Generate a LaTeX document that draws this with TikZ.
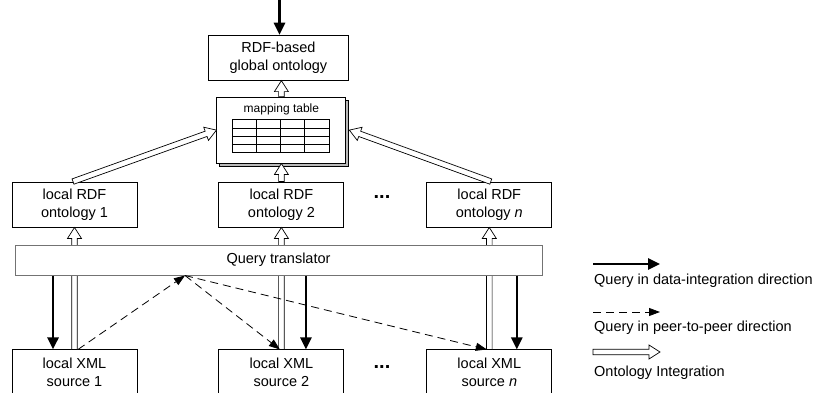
\documentclass[tikz,border=0pt]{standalone}
\usepackage{fontspec}
\setmainfont{Liberation Sans}
\usetikzlibrary{arrows.meta,calc,positioning,shadows}

% hollow arrow from #1 to #2 (closed outline, white inside)
\newcommand{\hollowarrow}[2]{%
  \draw[hollow] let \p1=(#1), \p2=(#2), \n1={atan2(\y2-\y1,\x2-\x1)}, \n2={veclen(\x2-\x1,\y2-\y1)-\hl} in
    ($(\p1)+({\n1+90}:\hw)$) -- ($(\p1)+(\n1:\n2)+({\n1+90}:\hw)$) -- ($(\p1)+(\n1:\n2)+({\n1+90}:\hh)$) -- (\p2)
    -- ($(\p1)+(\n1:\n2)+({\n1-90}:\hh)$) -- ($(\p1)+(\n1:\n2)+({\n1-90}:\hw)$) -- ($(\p1)+({\n1-90}:\hw)$) -- cycle;}

\begin{document}
\begin{tikzpicture}[x=1pt, y=1pt, font=\fontsize{14.5}{18}\selectfont,
		box/.style={draw, line width=0.9pt, minimum width=125pt, minimum height=45pt, align=center, inner sep=0pt},
		qry/.style={line width=2.6pt, -{Triangle[length=12pt,width=11pt]}},
		p2p/.style={line width=0.8pt, dash pattern=on 8pt off 5pt, -{Triangle[length=11pt,width=8pt]}},
		hollow/.style={draw, fill=white, line width=0.7pt, line join=miter},
		lgd/.style={anchor=west, inner sep=0pt}]
	\def\hw{2.8}\def\hh{7}\def\hl{11}
	\useasboundingbox (0,0) rectangle (821,-393);
	% ---- local RDF ontologies and local XML sources ----
	\node[box] (rdf1) at (74.5,-204.5) {local RDF\\ontology 1};
	\node[box, right=81pt of rdf1] (rdf2) {local RDF\\ontology 2};
	\node[box, right=82pt of rdf2] (rdfn) {local RDF\\ontology \textit{n}};
	\node[box, below=122pt of rdf1] (xml1) {local XML\\source 1};
	\node[box, below=122pt of rdf2] (xml2) {local XML\\source 2};
	\node[box, below=122pt of rdfn] (xmln) {local XML\\source \textit{n}};
	\node[font=\bfseries\fontsize{20}{20}\selectfont] (dots1) at (382,-197) {...};
	\node[font=\bfseries\fontsize{20}{20}\selectfont] (dots2) at (382,-367) {...};
	% ---- mapping table and global ontology ----
	\node[draw, line width=0.9pt, fill=white, minimum width=129pt, minimum height=66pt, inner sep=0pt,
		copy shadow={shadow xshift=3pt, shadow yshift=-3pt, fill=gray!55, draw=black},
		above=18pt of rdf2] (map) {};
	\node[font=\fontsize{12}{14}\selectfont] (maplbl) at ([yshift=-13pt]map.north) {mapping table};
	\begin{scope}[shift={($(map.north)+(-49.5,-23)$)}, line width=0.7pt]
		\draw (0,0) rectangle (97,-33);
		\foreach \i in {1,2,3} {
			\draw (\i*24.25,0) -- ++(0,-33);
			\draw (0,-\i*8.25) -- ++(97,0);
		}
	\end{scope}
	\node[box, minimum width=140pt, above=16pt of map, xshift=-3pt] (glob) {RDF-based\\global ontology};
	\coordinate (src) at (279.5,0);
	\draw[qry] (src) -- (src |- glob.north);
	% ---- ontology integration ----
	\hollowarrow{map.north}{map.north |- glob.south}
	\hollowarrow{rdf2.north}{map.south}
	\hollowarrow{[xshift=-1.5pt]rdf1.north}{map.west}
	\hollowarrow{[xshift=1.5pt]rdfn.north}{[xshift=3pt]map.east}
	\hollowarrow{xml1.north}{rdf1.south}
	\hollowarrow{xml2.north}{rdf2.south}
	\hollowarrow{xmln.north}{rdfn.south}
	% ---- query translator ----
	\node[draw=black!55, line width=1pt, fill=white, minimum width=527pt, minimum height=30pt, inner sep=0pt] (qt) at (278.5,-260) {Query translator};
	\coordinate (d1) at ([xshift=-21.5pt]xml1.north);
	\coordinate (d2) at ([xshift=24.5pt]xml2.north);
	\coordinate (dn) at ([xshift=27.5pt]xmln.north);
	\foreach \d in {d1,d2,dn} \draw[qry] (qt.south -| \d) -- (\d);
	\coordinate (hub) at ([xshift=-93.5pt]qt.south);
	\draw[p2p] ([xshift=3.5pt]xml1.north) -- (hub);
	\draw[p2p] (hub) -- ([xshift=-1.5pt]xml2.north);
	\draw[p2p] (hub) -- ([xshift=-2.5pt]xmln.north);
	% ---- legend ----
	\node[lgd] (lg1) at (594,-281) {Query in data-integration direction};
	\node[lgd] (lg2) at (594,-328) {Query in peer-to-peer direction};
	\node[lgd] (lg3) at (594,-373) {Ontology Integration};
	\coordinate (a1) at ([shift={(-1,17)}]lg1.west); \coordinate (b1) at ([xshift=67pt]a1);
	\coordinate (a2) at ([shift={(-1,16)}]lg2.west); \coordinate (b2) at ([xshift=67pt]a2);
	\coordinate (a3) at ([shift={(-1,21)}]lg3.west); \coordinate (b3) at ([xshift=67pt]a3);
	\draw[qry] (a1) -- (b1);
	\draw[p2p] (a2) -- (b2);
	\hollowarrow{a3}{b3}
\end{tikzpicture}
\end{document}
